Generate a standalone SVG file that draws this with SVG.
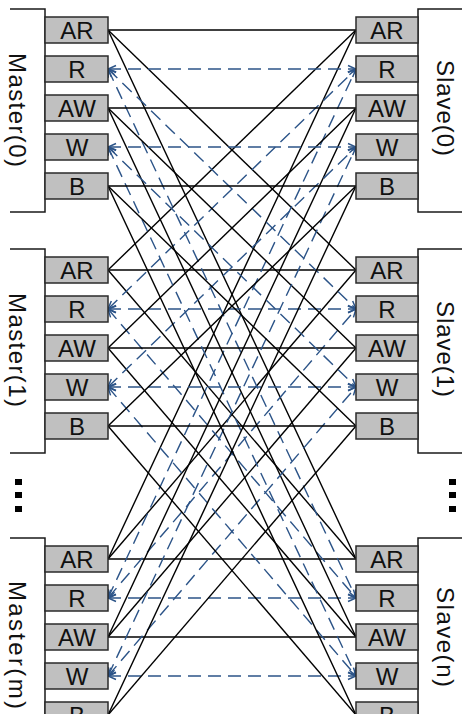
<svg xmlns="http://www.w3.org/2000/svg" width="462" height="714" viewBox="0 0 462 714">
  <defs>
    <style>
      .frame { fill: #ffffff; stroke: #1a1a1a; stroke-width: 1.5; }
      .bracket { fill: none; stroke: #1a1a1a; stroke-width: 1.5; }
      .port rect { fill: #c0c0c0; stroke: #2a2a2a; stroke-width: 1.5; }
      .port text { font-family: "Liberation Sans", Arial, sans-serif; font-size: 24px; fill: #111; text-anchor: middle; }
      .name { font-family: "Liberation Sans", Arial, sans-serif; font-size: 24px; fill: #111; text-anchor: middle; }
      .solid { stroke: #000; stroke-width: 1.4; fill: none; }
      .dash { stroke: #2c5488; stroke-width: 1.4; fill: none; stroke-dasharray: 13 7; marker-start: url(#tip); marker-end: url(#tip); }
      .dots rect { fill: #000; }
    </style>
    <marker id="tip" viewBox="0 0 10 10" refX="10" refY="5" markerWidth="10" markerHeight="10" markerUnits="userSpaceOnUse" orient="auto-start-reverse">
      <path d="M2,1.5 L10,5 L2,8.5" fill="none" stroke="#2c5488" stroke-width="1.5" stroke-dasharray="none"/>
    </marker>
    <g id="mports">
      <g class="port"><rect x="45" y="0" width="63" height="26"/><text x="77" y="21.5">AR</text></g>
      <g class="port"><rect x="45" y="39" width="63" height="26"/><text x="77" y="60.5">R</text></g>
      <g class="port"><rect x="45" y="78" width="63" height="26"/><text x="77" y="99.5">AW</text></g>
      <g class="port"><rect x="45" y="117" width="63" height="26"/><text x="77" y="138.5">W</text></g>
      <g class="port"><rect x="45" y="156" width="63" height="26"/><text x="77" y="177.5">B</text></g>
    </g>
    <g id="sports">
      <g class="port"><rect x="356" y="0" width="62" height="26"/><text x="387" y="21.5">AR</text></g>
      <g class="port"><rect x="356" y="39" width="62" height="26"/><text x="387" y="60.5">R</text></g>
      <g class="port"><rect x="356" y="78" width="62" height="26"/><text x="387" y="99.5">AW</text></g>
      <g class="port"><rect x="356" y="117" width="62" height="26"/><text x="387" y="138.5">W</text></g>
      <g class="port"><rect x="356" y="156" width="62" height="26"/><text x="387" y="177.5">B</text></g>
    </g>
  </defs>

  <rect width="462" height="714" fill="#ffffff"/>

  <!-- crossbar wiring: every master channel to every slave channel -->
  <g id="connectors">
    <!-- AR (solid) -->
    <line class="solid" x1="108" y1="30" x2="356" y2="30"/>
    <line class="solid" x1="108" y1="30" x2="356" y2="270"/>
    <line class="solid" x1="108" y1="30" x2="356" y2="559"/>
    <line class="solid" x1="108" y1="270" x2="356" y2="30"/>
    <line class="solid" x1="108" y1="270" x2="356" y2="270"/>
    <line class="solid" x1="108" y1="270" x2="356" y2="559"/>
    <line class="solid" x1="108" y1="559" x2="356" y2="30"/>
    <line class="solid" x1="108" y1="559" x2="356" y2="270"/>
    <line class="solid" x1="108" y1="559" x2="356" y2="559"/>
    <!-- R (dashed) -->
    <line class="dash" x1="108" y1="69" x2="356" y2="69"/>
    <line class="dash" x1="108" y1="69" x2="356" y2="309"/>
    <line class="dash" x1="108" y1="69" x2="356" y2="598"/>
    <line class="dash" x1="108" y1="309" x2="356" y2="69"/>
    <line class="dash" x1="108" y1="309" x2="356" y2="309"/>
    <line class="dash" x1="108" y1="309" x2="356" y2="598"/>
    <line class="dash" x1="108" y1="598" x2="356" y2="69"/>
    <line class="dash" x1="108" y1="598" x2="356" y2="309"/>
    <line class="dash" x1="108" y1="598" x2="356" y2="598"/>
    <!-- AW (solid) -->
    <line class="solid" x1="108" y1="108" x2="356" y2="108"/>
    <line class="solid" x1="108" y1="108" x2="356" y2="348"/>
    <line class="solid" x1="108" y1="108" x2="356" y2="637"/>
    <line class="solid" x1="108" y1="348" x2="356" y2="108"/>
    <line class="solid" x1="108" y1="348" x2="356" y2="348"/>
    <line class="solid" x1="108" y1="348" x2="356" y2="637"/>
    <line class="solid" x1="108" y1="637" x2="356" y2="108"/>
    <line class="solid" x1="108" y1="637" x2="356" y2="348"/>
    <line class="solid" x1="108" y1="637" x2="356" y2="637"/>
    <!-- W (dashed) -->
    <line class="dash" x1="108" y1="147" x2="356" y2="147"/>
    <line class="dash" x1="108" y1="147" x2="356" y2="387"/>
    <line class="dash" x1="108" y1="147" x2="356" y2="676"/>
    <line class="dash" x1="108" y1="387" x2="356" y2="147"/>
    <line class="dash" x1="108" y1="387" x2="356" y2="387"/>
    <line class="dash" x1="108" y1="387" x2="356" y2="676"/>
    <line class="dash" x1="108" y1="676" x2="356" y2="147"/>
    <line class="dash" x1="108" y1="676" x2="356" y2="387"/>
    <line class="dash" x1="108" y1="676" x2="356" y2="676"/>
    <!-- B (solid) -->
    <line class="solid" x1="108" y1="186" x2="356" y2="186"/>
    <line class="solid" x1="108" y1="186" x2="356" y2="426"/>
    <line class="solid" x1="108" y1="186" x2="356" y2="715"/>
    <line class="solid" x1="108" y1="426" x2="356" y2="186"/>
    <line class="solid" x1="108" y1="426" x2="356" y2="426"/>
    <line class="solid" x1="108" y1="426" x2="356" y2="715"/>
    <line class="solid" x1="108" y1="715" x2="356" y2="186"/>
    <line class="solid" x1="108" y1="715" x2="356" y2="426"/>
    <line class="solid" x1="108" y1="715" x2="356" y2="715"/>
  </g>

  <!-- masters -->
  <g id="master0">
    <path class="bracket" d="M10,9 H45 V212 H10"/>
    <text class="name" transform="translate(9,110) rotate(90)" textLength="114" lengthAdjust="spacing">Master(0)</text>
    <use href="#mports" y="17"/>
  </g>
  <g id="master1">
    <path class="bracket" d="M10,249 H45 V453 H10"/>
    <text class="name" transform="translate(9,350) rotate(90)" textLength="114" lengthAdjust="spacing">Master(1)</text>
    <use href="#mports" y="257"/>
  </g>
  <g id="masterm">
    <path class="bracket" d="M10,538 H45 V740"/>
    <text class="name" transform="translate(9,645) rotate(90)" textLength="128" lengthAdjust="spacing">Master(m)</text>
    <use href="#mports" y="546"/>
  </g>

  <!-- slaves -->
  <g id="slave0">
    <rect class="frame" x="418" y="9" width="60" height="203"/>
    <text class="name" transform="translate(437,108) rotate(90)" textLength="96" lengthAdjust="spacing">Slave(0)</text>
    <use href="#sports" y="17"/>
  </g>
  <g id="slave1">
    <rect class="frame" x="418" y="249" width="60" height="204"/>
    <text class="name" transform="translate(437,349) rotate(90)" textLength="96" lengthAdjust="spacing">Slave(1)</text>
    <use href="#sports" y="257"/>
  </g>
  <g id="slaven">
    <rect class="frame" x="418" y="538" width="60" height="210"/>
    <text class="name" transform="translate(437,637) rotate(90)" textLength="100" lengthAdjust="spacing">Slave(n)</text>
    <use href="#sports" y="546"/>
  </g>

  <!-- vertical ellipses between groups -->
  <g id="dots" class="dots">
    <rect x="15" y="479" width="7" height="6"/>
    <rect x="15" y="492" width="7" height="6"/>
    <rect x="15" y="506" width="7" height="6"/>
    <rect x="449" y="479" width="7" height="6"/>
    <rect x="449" y="492" width="7" height="6"/>
    <rect x="449" y="506" width="7" height="6"/>
  </g>
</svg>
